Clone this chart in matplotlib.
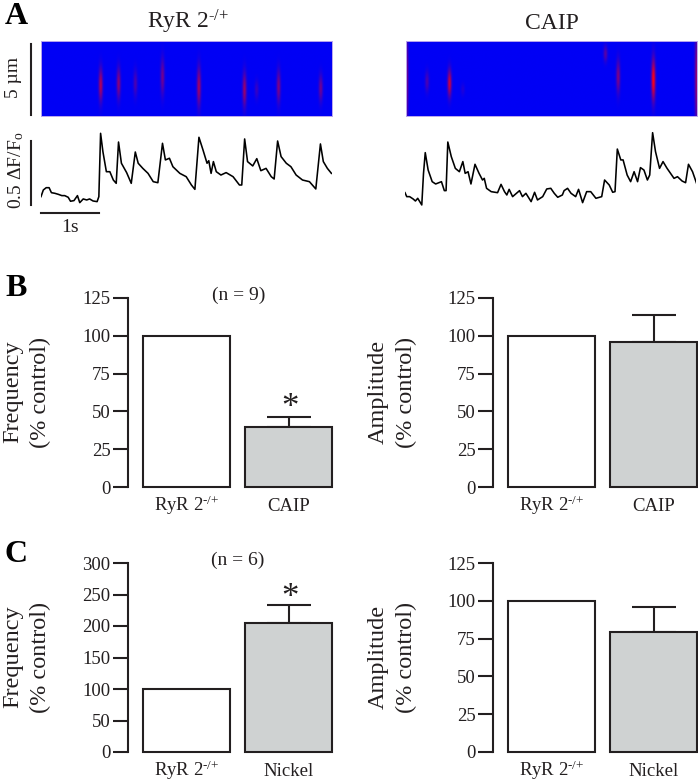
import matplotlib
matplotlib.use('Agg')
import matplotlib.pyplot as plt
import numpy as np
from matplotlib.colors import LinearSegmentedColormap

plt.rcParams['font.family'] = ['Liberation Serif', 'DejaVu Serif']
plt.rcParams['mathtext.fontset'] = 'custom'
plt.rcParams['mathtext.rm'] = 'Liberation Serif'
plt.rcParams['mathtext.it'] = 'Liberation Serif'
plt.rcParams['mathtext.bf'] = 'Liberation Serif:bold'

W, H = 698, 782
INK = '#231f20'
GRAY = '#cfd2d2'

# traces, seconds and dF/F0
t_ryr = [0.00, 0.04, 0.09, 0.14, 0.18, 0.24, 0.30, 0.36, 0.41, 0.47, 0.51, 0.57, 0.63, 0.67, 0.73, 0.79, 0.84, 0.90, 0.97, 1.00,
         1.03, 1.07, 1.13, 1.19, 1.25, 1.30, 1.34, 1.39, 1.48, 1.56, 1.63, 1.68, 1.76, 1.85, 1.94, 2.02, 2.10, 2.15, 2.22, 2.28,
         2.40, 2.51, 2.60, 2.66, 2.73, 2.80, 2.87, 2.90, 2.94, 2.98, 3.03, 3.11, 3.20, 3.32, 3.43, 3.47, 3.52, 3.57, 3.66, 3.73,
         3.80, 3.89, 3.98, 4.03, 4.09, 4.15, 4.24, 4.32, 4.41, 4.52, 4.64, 4.75, 4.83, 4.88, 4.95, 5.02]
df_ryr = [.052, .104, .122, .122, .083, .078, .070, .060, .060, .047, .016, .021, .060, .005, .034, .026, .034, .018, .013, .052,
          .547, .404, .247, .247, .182, .156, .479, .313, .240, .156, .401, .313, .273, .234, .169, .161, .469, .339, .352, .286,
          .234, .208, .143, .109, .516, .417, .313, .333, .234, .326, .247, .221, .240, .208, .143, .143, .503, .326, .292, .349,
          .255, .273, .208, .190, .487, .365, .313, .286, .221, .182, .169, .112, .464, .326, .273, .234]

t_caip = [0, .03, .08, .14, .18, .22, .29, .32, .35, .40, .47, .53, .63, .68, .71, .74, .80, .87, .94, 1.00, 1.04, 1.09, 1.14, 1.21,
          1.28, 1.34, 1.37, 1.41, 1.49, 1.60, 1.66, 1.72, 1.76, 1.80, 1.86, 1.98, 2.03, 2.09, 2.18, 2.24, 2.29, 2.38, 2.45, 2.52,
          2.58, 2.64, 2.72, 2.75, 2.81, 2.87, 2.95, 3.00, 3.07, 3.14, 3.21, 3.30, 3.40, 3.45, 3.53, 3.59, 3.63, 3.67, 3.73, 3.77,
          3.84, 3.90, 3.96, 4.02, 4.07, 4.13, 4.19, 4.23, 4.28, 4.33, 4.40, 4.46, 4.53, 4.65, 4.71, 4.79, 4.85, 4.90, 4.97, 5.04]
df_caip = [.083, .052, .052, .034, .018, .039, -.013, .234, .396, .260, .169, .151, .169, .099, .099, .479, .365, .273, .247, .326,
           .234, .247, .151, .305, .234, .182, .195, .117, .091, .083, .148, .091, .065, .109, .052, .099, .052, .078, .013, .086,
           .026, .052, .112, .117, .078, .047, .065, .099, .117, .078, .052, .109, .005, .091, .091, .039, .052, .182, .143, .086,
           .091, .424, .339, .339, .221, .169, .247, .169, .279, .260, .182, .221, .552, .404, .273, .326, .273, .195, .208, .174,
           .161, .305, .247, .156]

# sparks in the line scans: time (s), position (um), half length (um), peak
spark_t_ryr = [1.03, 1.34, 1.63, 2.10, 2.73, 3.52, 3.73, 4.11, 4.84]
spark_pos_ryr = [2.92, 2.81, 2.81, 2.37, 3.03, 3.25, 3.25, 3.03, 3.14]
spark_len_ryr = [1.75, 1.64, 1.43, 1.97, 2.08, 1.86, 0.99, 1.75, 1.43]
spark_amp_ryr = [0.70, 0.55, 0.30, 0.45, 0.65, 0.60, 0.22, 0.50, 0.45]

spark_t_caip = [0.00, 0.36, 0.75, 0.98, 3.45, 3.67, 4.28, 5.03]
spark_pos_caip = [2.5, 2.70, 2.81, 3.25, 0.83, 2.37, 2.59, 2.5]
spark_len_caip = [5.0, 1.10, 1.43, 0.66, 0.88, 1.75, 2.20, 5.0]
spark_amp_caip = [0.6, 0.30, 0.80, 0.12, 0.35, 0.50, 1.00, 0.6]

# bars
freq_b = [100, 39.5]
freq_b_err = [0, 6.5]
amp_b = [100, 96]
amp_b_err = [0, 18]
freq_c = [100, 204]
freq_c_err = [0, 29]
amp_c = [100, 79.5]
amp_c_err = [0, 16.5]
labels_b = ['RyR 2$^{\\text{-/+}}$', 'CAIP']
labels_c = ['RyR 2$^{\\text{-/+}}$', 'Nickel']

fig = plt.figure(figsize=(W / 100, H / 100), dpi=100)
spark_cmap = LinearSegmentedColormap.from_list('spark', ['#0000f5', '#ff0010'])


def ax_px(x0, y0, x1, y1):
    return fig.add_axes([x0 / W, 1 - y1 / H, (x1 - x0) / W, (y1 - y0) / H])


def txt(x, y, s, **kw):
    kw.setdefault('color', INK)
    kw.setdefault('ha', 'center')
    kw.setdefault('va', 'center')
    fig.text(x / W, 1 - y / H, s, **kw)


def linescan(rect, ts, pos, lens, amps):
    ax = ax_px(*rect)
    tt, pp = np.meshgrid(np.linspace(0, 5.03, 580), np.linspace(0, 5, 160))
    img = np.zeros_like(tt)
    for t0, p0, l0, a0 in zip(ts, pos, lens, amps):
        img += a0 * np.exp(-((tt - t0) / 0.034) ** 2 - ((pp - p0) / (0.62 * l0)) ** 2)
    ax.imshow(np.clip(img, 0, 1), extent=[0, 5.03, 5, 0], aspect='auto', cmap=spark_cmap, vmin=0, vmax=1, interpolation='bilinear')
    ax.set_xticks([])
    ax.set_yticks([])
    for s in ax.spines.values():
        s.set_color('#b9a6ee')
        s.set_linewidth(0.7)
    return ax


def trace(rect, t, df):
    ax = ax_px(*rect)
    ax.plot(t, df, color='black', lw=1.15)
    ax.set_xlim(0, 5.03)
    ax.set_ylim(-0.029, 0.573)
    ax.axis('off')
    return ax


def bars(x0, y0, y1, vals, errs, labels, top, step):
    ax = ax_px(x0, y0, x0 + 205, y1)
    ax.bar([0, 1], vals, width=0.853, color=['white', GRAY], edgecolor=INK, linewidth=1.5, clip_on=False, zorder=3)
    ax.errorbar([1], vals[1], yerr=[[0], [errs[1]]], color=INK, elinewidth=1.5, capsize=15.5, capthick=1.5, zorder=2)
    ax.set_xlim(-0.574, 1.436)
    ax.set_ylim(0, top)
    ax.set_yticks(np.arange(0, top + 1, step))
    ax.set_xticks([0, 1])
    ax.set_xticklabels(labels, fontsize=13.5, color=INK, va='baseline')
    ax.tick_params(axis='x', length=0, pad=17)
    ax.tick_params(axis='y', length=10.5, width=1.5, color=INK, labelsize=13.5, labelcolor=INK, pad=2)
    for s in ['top', 'right', 'bottom']:
        ax.spines[s].set_visible(False)
    ax.spines['left'].set_linewidth(1.5)
    ax.spines['left'].set_color(INK)
    ax.patch.set_alpha(0)
    return ax


# panel A
k1 = linescan((41, 41, 332, 116), spark_t_ryr, spark_pos_ryr, spark_len_ryr, spark_amp_ryr)
k2 = linescan((406, 41, 697, 116), spark_t_caip, spark_pos_caip, spark_len_caip, spark_amp_caip)
t1 = trace((41, 130, 332, 207), t_ryr, df_ryr)
t2 = trace((405, 130, 696, 207), t_caip, df_caip)

# scale bars
k1.plot([-0.18, -0.18], [0.22, 4.91], color=INK, lw=1.5, clip_on=False)
k1.set_xlim(0, 5.03)
k1.set_ylim(5, 0)
t1.plot([-0.18, -0.18], [-0.013, 0.49], color=INK, lw=1.5, clip_on=False)
t1.plot([0, 1], [-0.078, -0.078], color=INK, lw=1.5, clip_on=False)
t1.set_xlim(0, 5.03)
t1.set_ylim(-0.029, 0.573)

txt(16, 16, 'A', fontsize=23, fontweight='bold', color='black')
txt(16, 288, 'B', fontsize=23, fontweight='bold', color='black')
txt(16, 555, 'C', fontsize=23, fontweight='bold', color='black')
txt(188, 29, 'RyR 2$^{\\text{-/+}}$', fontsize=17, va='baseline')
txt(552, 29, 'CAIP', fontsize=17, va='baseline')
txt(14, 77, '5 µm', fontsize=14, rotation=90)
txt(16, 170, '0.5 ΔF/F$_{\\mathrm{o}}$', fontsize=14, rotation=90)
txt(70, 228, '1s', fontsize=14)

# panel B and C
bars(128, 298, 487, freq_b, freq_b_err, labels_b, 125, 25)
bars(493, 298, 487, amp_b, amp_b_err, labels_b, 125, 25)
bars(128, 563, 752, freq_c, freq_c_err, labels_c, 300, 50)
bars(493, 563, 752, amp_c, amp_c_err, labels_c, 125, 25)

txt(239, 295, '(n = 9)', fontsize=14)
txt(238, 560, '(n = 6)', fontsize=14)
txt(290, 409, '*', fontsize=25)
txt(290, 598, '*', fontsize=25)

txt(13, 392, 'Frequency', fontsize=17.5, rotation=90)
txt(40, 392, '(% control)', fontsize=17.5, rotation=90)
txt(378, 392, 'Amplitude', fontsize=17.5, rotation=90)
txt(406, 392, '(% control)', fontsize=17.5, rotation=90)
txt(13, 657, 'Frequency', fontsize=17.5, rotation=90)
txt(40, 657, '(% control)', fontsize=17.5, rotation=90)
txt(378, 657, 'Amplitude', fontsize=17.5, rotation=90)
txt(406, 657, '(% control)', fontsize=17.5, rotation=90)

fig.savefig('out.png', dpi=100)
